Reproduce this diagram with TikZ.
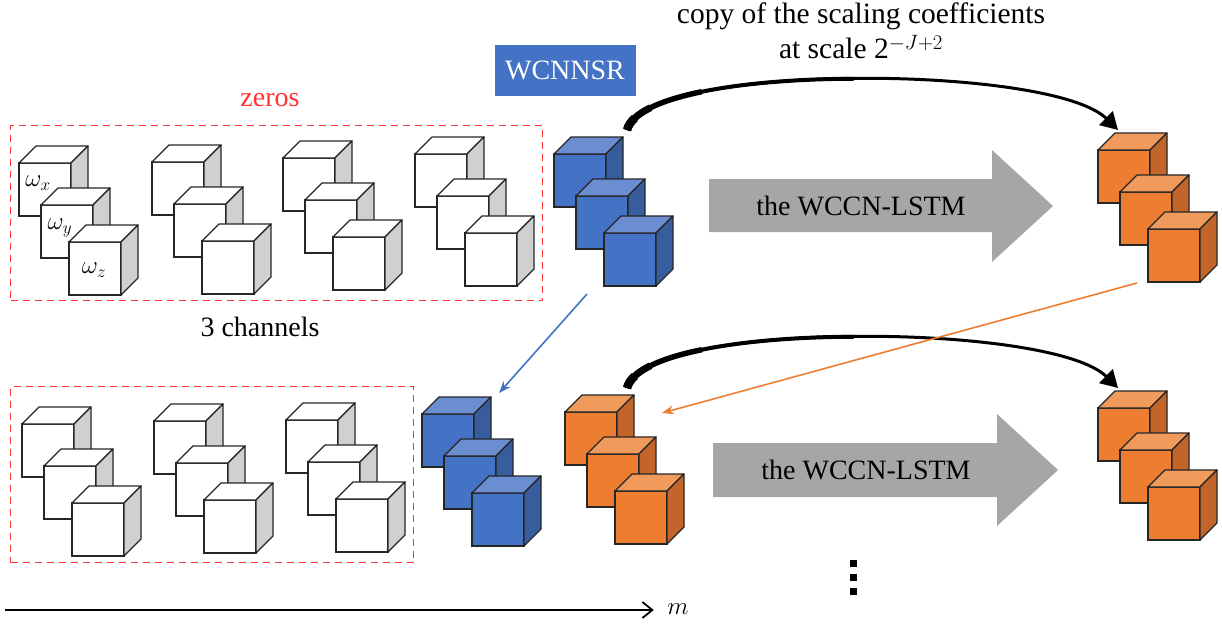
\documentclass[tikz,border=0pt]{standalone}
\usepackage{fontspec}
\setmainfont{Liberation Serif}
\usetikzlibrary{arrows.meta,positioning,calc}

\definecolor{bluefront}{HTML}{4472C4}
\definecolor{bluetop}{HTML}{6B8ED0}
\definecolor{blueside}{HTML}{375D9E}
\definecolor{orangefront}{HTML}{ED7D31}
\definecolor{orangetop}{HTML}{F09B5C}
\definecolor{orangeside}{HTML}{C3652A}
\definecolor{whitefront}{HTML}{FFFFFF}
\definecolor{whitetop}{HTML}{FFFFFF}
\definecolor{whiteside}{HTML}{D0D0D0}
\definecolor{zerored}{HTML}{FF3333}
\definecolor{lstmgray}{HTML}{A6A6A6}

\tikzset{
    cube/.style={
           rectangle,
           draw=black!85, line width=1.3pt,
           minimum width=52pt,
           minimum height=53pt,
           inner sep=0pt, outer sep=0pt,
           anchor=north west,
           },
    cubeline/.style={draw=black!85, line width=1.3pt, line join=round},
    zerobox/.style={draw=zerored, dash pattern=on 7pt off 5pt, line width=1.3pt,
           rectangle, anchor=north west, inner sep=0pt},
    lstm/.style={fill=lstmgray, draw=none},
    omega/.style={font=\fontsize{24}{26}\selectfont},
    copyarrow/.style={line width=3pt, -{Triangle[length=17pt,width=19pt]}},
    thinarrow/.style={line width=1.6pt, -{Stealth[length=12pt,width=9pt]}},
}

% one cube: name, front top-left x, y, colour prefix
\newcommand{\cubebox}[4]{%
  \node[cube, fill=#4front] (#1) at (#2,#3) {};
  \filldraw[cubeline, fill=#4top] (#1.north west) -- ++(17,-17) -- ++(52,0) -- (#1.north east) -- cycle;
  \filldraw[cubeline, fill=#4side] (#1.north east) -- ++(17,-17) -- ++(0,53) -- (#1.south east) -- cycle;
}
% three stacked cubes: name, x, y, colour prefix
\newcommand{\cubegroup}[4]{%
  \cubebox{#1a}{#2}{#3}{#4}
  \cubebox{#1b}{#2+22}{#3+42}{#4}
  \cubebox{#1c}{#2+50}{#3+79}{#4}
}
% curved copy arrow, thicker near its start
\newcommand{\copyarc}[2]{%
  \draw[copyarrow] (#1) .. controls ($(#1)+(18,-68)$) and ($(#2)+(-67,-66)$) .. (#2);
  \draw[line width=4pt] (#1) .. controls ($(#1)+(9,-34)$) and ($(#1)+(114.75,-51)$) .. ($(#1)+(226.6,-51.25)$);
  \draw[line width=5.5pt] (#1) .. controls ($(#1)+(4.5,-17)$) and ($(#1)+(33.2,-29.75)$) .. ($(#1)+(74.7,-38.3)$);
  \draw[line width=7pt] (#1) .. controls ($(#1)+(2.25,-8.5)$) and ($(#1)+(10.55,-15.94)$) .. ($(#1)+(23.5,-22.3)$);
  \draw[line width=8.5pt] (#1) .. controls ($(#1)+(1.125,-4.25)$) and ($(#1)+(3.76,-8.23)$) .. ($(#1)+(7.74,-11.95)$);
}

\begin{document}
\begin{tikzpicture}[x=1pt,y=-1pt,
                    font=\fontsize{28}{33}\selectfont]

  \useasboundingbox (0,0) rectangle (1222,630);

  % channels filled with zeros
  \node[zerobox, minimum width=532pt, minimum height=175pt] (zerosA) at (10,125) {};
  \node[zerobox, minimum width=403pt, minimum height=176pt] (zerosB) at (10,386) {};
  \node[text=zerored] (zeros) at (270,100) {zeros};
  \node (chan) at (260,327) {3 channels};

  % first row
  \cubegroup{wa}{19}{163}{white}
  \cubegroup{wb}{152}{162}{white}
  \cubegroup{wc}{283}{158}{white}
  \cubegroup{wd}{415}{154}{white}
  \node[omega] at (38,183) {$\omega_x$};
  \node[omega] at (60,228) {$\omega_y$};
  \node[omega] at (94,270) {$\omega_z$};
  \cubegroup{bt}{554}{154}{blue}
  \cubegroup{ot}{1098}{150}{orange}

  % second row
  \cubegroup{we}{22}{424}{white}
  \cubegroup{wf}{154}{421}{white}
  \cubegroup{wg}{286}{420}{white}
  \cubegroup{bb}{422}{414}{blue}
  \cubegroup{ob}{565}{412}{orange}
  \cubegroup{oc}{1098}{408}{orange}

  \node[fill=bluefront, text=white, minimum width=141pt, minimum height=51pt,
        inner sep=0pt] (sr) at (565,70) {WCNNSR};

  % WCCN-LSTM arrows
  \fill[lstm] (709,179) -- (992,179) -- (992,150) -- (1053,206) -- (992,262)
              -- (992,232) -- (709,232) -- cycle;
  \node (lstmA) at (861,206) {the WCCN-LSTM};
  \fill[lstm] (713,443) -- (997,443) -- (997,414) -- (1058,470) -- (997,526)
              -- (997,497) -- (713,497) -- cycle;
  \node (lstmB) at (866,470) {the WCCN-LSTM};

  \node[align=center, font=\fontsize{29.5}{35}\selectfont] (copy) at (861,31)
       {copy of the scaling coefficients\\at scale 2$^{\mbox{\fontsize{21}{21}\selectfont$-J{+}2$}}$};

  % copies of the scaling coefficients
  \coordinate (cpA) at ([xshift=21pt,yshift=24pt]bta.north east);
  \coordinate (cpB) at ([xshift=20pt,yshift=20pt]ota.north west);
  \coordinate (cpC) at ([xshift=10pt,yshift=24pt]oba.north east);
  \coordinate (cpD) at ([xshift=20pt,yshift=20pt]oca.north west);
  \copyarc{cpA}{cpB}
  \copyarc{cpC}{cpD}

  \draw[thinarrow, bluefront] ([xshift=-17pt,yshift=-8pt]btc.south west)
        -- ([xshift=25pt,yshift=21pt]bba.north east);
  \draw[thinarrow, orangefront] ([xshift=-11pt,yshift=-1pt]otc.south west)
        -- ([xshift=45pt,yshift=-1pt]oba.north east);

  % more scales
  \foreach \dy in {560,574,588}
    \fill (850,\dy) rectangle (857,\dy+7);

  % m axis
  \node[font=\fontsize{30}{33}\selectfont] (m) at (678,609) {$m$};
  \coordinate (axis) at (5,610);
  \draw[line width=1.8pt, -{Straight Barb[length=10pt,width=16pt]}] (axis) -- ([xshift=-10pt]m.west |- axis);

\end{tikzpicture}
\end{document}
